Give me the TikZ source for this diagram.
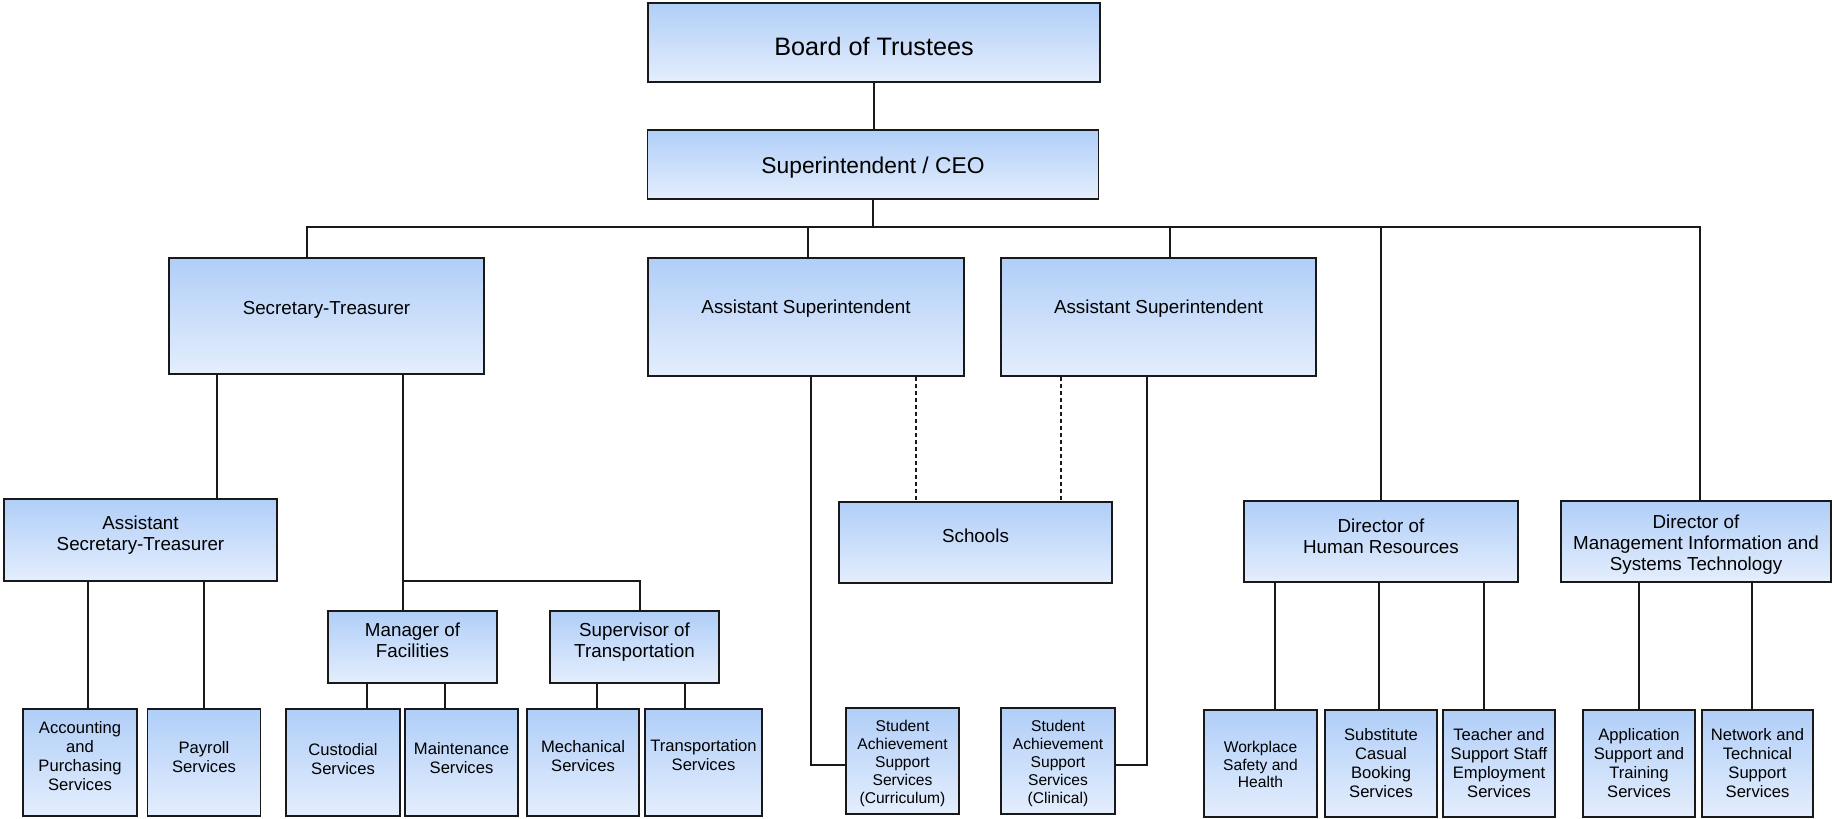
\documentclass[tikz,border=0pt]{standalone}
\usepackage{fontspec}
\setmainfont{Liberation Sans}
\definecolor{boxtop}{RGB}{176,206,248}
\definecolor{boxbot}{RGB}{228,238,253}
\definecolor{boxline}{RGB}{25,25,25}
\newcommand{\lift}[1]{\rule[-#1]{0pt}{0pt}}
\newcommand{\sink}[1]{\rule{0pt}{#1}}
\begin{document}
\begin{tikzpicture}[x=0.5pt,y=-0.5pt,
  box/.style={draw=boxline, line width=0.75pt, top color=boxtop, bottom color=boxbot,
    align=center, inner sep=0pt, font=\fontsize{9.4}{10.5}\selectfont},
  wh/.style 2 args={minimum width=#1*0.5pt, minimum height=#2*0.5pt},
  unit/.style={box, wh={113}{107}, font=\fontsize{8.3}{9.5}\selectfont},
  link/.style={draw=boxline, line width=0.65pt},
  dotlink/.style={link, dash pattern=on 2pt off 1.5pt}]
\useasboundingbox (0,0) rectangle (1832,819);

% top of the chart
\node[box, wh={452}{79}, font=\fontsize{12.6}{15}\selectfont] (board) at (874,42.5) {\sink{13.2pt}Board of Trustees};
\node[box, wh={451}{69}, font=\fontsize{11.4}{13.5}\selectfont] (ceo) at (873,164.5) {\sink{11.8pt}Superintendent / CEO};
\coordinate (bus) at (874,227);

% second level
\node[box, wh={315}{116}] (sectr) at (326.5,316) {Secretary-Treasurer\lift{8pt}};
\node[box, wh={316}{118}] (asup1) at (806,317) {Assistant Superintendent\lift{10pt}};
\node[box, wh={315}{118}] (asup2) at (1158.5,317) {Assistant Superintendent\lift{10pt}};

% third level
\node[box, wh={273}{82}] (asec) at (140.5,540) {Assistant\\Secretary-Treasurer\lift{7pt}};
\node[box, wh={169}{72}] (mfac) at (412.5,647) {Manager of\\Facilities\lift{7pt}};
\node[box, wh={169}{72}] (stra) at (634.5,647) {Supervisor of\\Transportation\lift{7pt}};
\node[box, wh={273}{81}] (schools) at (975.5,542.5) {Schools\lift{6.5pt}};
\node[box, wh={274}{81}] (dhr) at (1381,541.5) {Director of\\Human Resources\lift{5.5pt}};
\node[box, wh={270}{81}] (dmis) at (1696,541.5) {\sink{9.9pt}Director of\\Management Information and\\Systems Technology};

% services
\node[unit, wh={114}{107}] (acc) at (80,762.5) {Accounting\\and\\Purchasing\\Services\lift{7pt}};
\node[unit] (pay) at (204,762.5) {Payroll\\Services\lift{6pt}};
\node[unit, wh={114}{107}] (cust) at (343,762.5) {Custodial\\Services\lift{4pt}};
\node[unit] (maint) at (461.5,762.5) {Maintenance\\Services\lift{5pt}};
\node[unit, wh={112}{107}] (mech) at (583,762.5) {Mechanical\\Services\lift{7pt}};
\node[unit, wh={117}{107}] (trans) at (703.5,762.5) {Transportation\\Services\lift{8pt}};
\node[unit, wh={113}{106}, font=\fontsize{7.8}{9}\selectfont] (sascur) at (902.5,761) {\sink{8.1pt}Student\\Achievement\\Support\\Services\\(Curriculum)};
\node[unit, wh={114}{106}, font=\fontsize{7.8}{9}\selectfont] (sascl) at (1058,761) {\sink{8.1pt}Student\\Achievement\\Support\\Services\\(Clinical)};
\node[unit, font=\fontsize{7.8}{8.75}\selectfont] (work) at (1260.5,763.5) {\sink{7pt}Workplace\\Safety and\\Health};
\node[unit, wh={112}{107}] (subs) at (1381,763.5) {Substitute\\Casual\\Booking\\Services\lift{1pt}};
\node[unit, wh={112}{107}] (teach) at (1499,763.5) {Teacher and\\Support Staff\\Employment\\Services\lift{1pt}};
\node[unit, wh={112}{107}] (appl) at (1639,763.5) {Application\\Support and\\Training\\Services};
\node[unit, wh={111}{107}] (netw) at (1757.5,763.5) {Network and\\Technical\\Support\\Services};

% lines from the top
\draw[link] (board.south) -- (board.south |- ceo.north);
\draw[link] (ceo.south) -- (ceo.south |- bus);
\draw[link] ([xshift=-9.75pt]sectr.north) |- (bus) -| ([xshift=2pt]dmis.north);
\draw[link] ([xshift=1pt]asup1.north) -- ([xshift=1pt]asup1.north |- bus);
\draw[link] ([xshift=5.75pt]asup2.north) -- ([xshift=5.75pt]asup2.north |- bus);
\draw[link] (dhr.north) -- (dhr.north |- bus);

% secretary-treasurer branch
\draw[link] ([xshift=-54.75pt]sectr.south) -- ([xshift=-54.75pt]sectr.south |- asec.north);
\draw[link] ([xshift=38.25pt]sectr.south) -- ([xshift=38.25pt]sectr.south |- mfac.north);
\coordinate (fjoin) at (403,581);
\draw[link] (fjoin) -| ([xshift=2.75pt]stra.north);
\draw[link] ([xshift=4pt]acc.north) -- ([xshift=4pt]acc.north |- asec.south);
\draw[link] (pay.north) -- (pay.north |- asec.south);
\draw[link] ([xshift=12pt]cust.north) -- ([xshift=12pt]cust.north |- mfac.south);
\draw[link] ([xshift=-8.25pt]maint.north) -- ([xshift=-8.25pt]maint.north |- mfac.south);
\draw[link] ([xshift=7pt]mech.north) -- ([xshift=7pt]mech.north |- stra.south);
\draw[link] ([xshift=-9.25pt]trans.north) -- ([xshift=-9.25pt]trans.north |- stra.south);

% assistant superintendents
\draw[link] ([xshift=2.5pt]asup1.south) |- ([yshift=-2pt]sascur.west);
\draw[link] ([xshift=-5.75pt]asup2.south) |- ([yshift=-2pt]sascl.east);
\draw[dotlink] ([xshift=55pt]asup1.south) -- ([xshift=55pt]asup1.south |- schools.north);
\draw[dotlink] ([xshift=-48.75pt]asup2.south) -- ([xshift=-48.75pt]asup2.south |- schools.north);

% directors
\draw[link] ([xshift=7.25pt]work.north) -- ([xshift=7.25pt]work.north |- dhr.south);
\draw[link] ([xshift=-1pt]subs.north) -- ([xshift=-1pt]subs.north |- dhr.south);
\draw[link] ([xshift=-7.5pt]teach.north) -- ([xshift=-7.5pt]teach.north |- dhr.south);
\draw[link] (appl.north) -- (appl.north |- dmis.south);
\draw[link] ([xshift=-2.75pt]netw.north) -- ([xshift=-2.75pt]netw.north |- dmis.south);
\end{tikzpicture}
\end{document}
